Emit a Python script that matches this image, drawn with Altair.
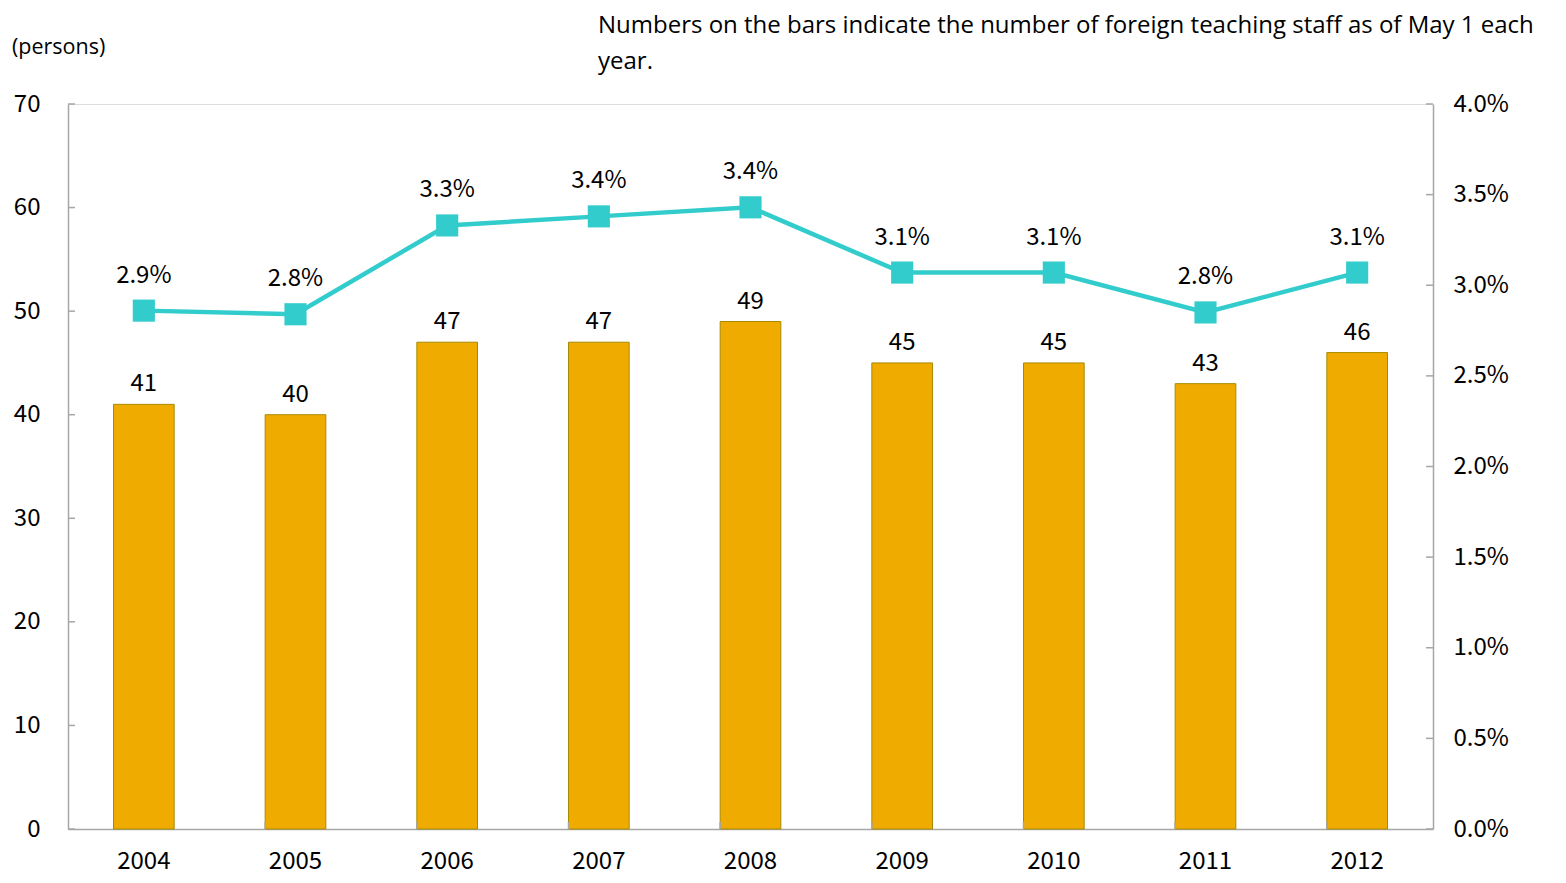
import altair as alt
import pandas as pd

years = ["2004", "2005", "2006", "2007", "2008", "2009", "2010", "2011", "2012"]
staff = [41, 40, 47, 47, 49, 45, 45, 43, 46]
ratio = [0.0286, 0.0284, 0.0333, 0.0338, 0.0343, 0.0307, 0.0307, 0.0285, 0.0307]
ratio_labels = ["2.9%", "2.8%", "3.3%", "3.4%", "3.4%", "3.1%", "3.1%", "2.8%", "3.1%"]
left_ticks = [0, 10, 20, 30, 40, 50, 60, 70]
right_ticks = [0, 0.005, 0.01, 0.015, 0.02, 0.025, 0.03, 0.035, 0.04]
note = "Numbers on the bars indicate the number of foreign teaching staff as of May 1 each\nyear."
unit = "(persons)"

W, H = 1365, 725
NUM_FONT = "Noto Sans CJK JP"
TXT_FONT = "Open Sans"
AXIS_GRAY = "#A6A6A6"
NUM_SIZE = 24

df = pd.DataFrame({"year": years, "staff": staff, "ratio": ratio, "rlabel": ratio_labels})
lt = pd.DataFrame({"v": left_ticks})
rt = pd.DataFrame({"v": right_ticks})
bt = pd.DataFrame({"year": years[1:]})

xscale = alt.Scale(domain=years, paddingInner=0.6, paddingOuter=0.3)
xenc = alt.X("year:N", scale=xscale, title=None,
             axis=alt.Axis(labelAngle=0, ticks=False, labelFont=NUM_FONT, labelFontSize=NUM_SIZE,
                           labelColor="#000000", labelPadding=20, domainColor=AXIS_GRAY,
                           domainWidth=1.5, grid=False))
xplain = alt.X("year:N", scale=xscale, title=None)

yl_scale = alt.Scale(domain=[0, 70], nice=False, zero=True)
yr_scale = alt.Scale(domain=[0, 0.04], nice=False, zero=True)

bars = alt.Chart(df).mark_bar(color="#F0AB00", stroke="#A88A00", strokeWidth=1).encode(
    x=xenc,
    y=alt.Y("staff:Q", scale=yl_scale, title=None,
            axis=alt.Axis(values=left_ticks, ticks=False, labelFont=NUM_FONT,
                          labelFontSize=NUM_SIZE, labelColor="#000000", labelPadding=28,
                          domainColor=AXIS_GRAY, domainWidth=1.5, grid=False)),
)
bar_text = alt.Chart(df).mark_text(baseline="bottom", dy=-8, font=NUM_FONT, fontSize=NUM_SIZE,
                                   color="#000000").encode(
    x=xplain, y=alt.Y("staff:Q", scale=yl_scale, title=None), text="staff:Q")
left_tick_marks = alt.Chart(lt).mark_rule(color=AXIS_GRAY, strokeWidth=1.5).encode(
    y=alt.Y("v:Q", scale=yl_scale, title=None), x=alt.value(0), x2=alt.value(7))
x_tick_marks = alt.Chart(bt).mark_rule(color=AXIS_GRAY, strokeWidth=1.5).encode(
    x=alt.X("year:N", scale=xscale, title=None, bandPosition=0),
    y=alt.value(H - 7), y2=alt.value(H))
note_text = alt.Chart(pd.DataFrame({"t": [note]})).mark_text(
    align="left", baseline="middle", font=TXT_FONT, fontSize=24, lineHeight=36,
    lineBreak="\n", color="#000000").encode(
    x=alt.value(530), y=alt.value(-78), text="t:N")
unit_text = alt.Chart(pd.DataFrame({"t": [unit]})).mark_text(
    align="left", baseline="middle", font=TXT_FONT, fontSize=21.5, color="#000000").encode(
    x=alt.value(-56), y=alt.value(-56), text="t:N")

left = alt.layer(bars, bar_text, left_tick_marks, x_tick_marks, note_text, unit_text)

line = alt.Chart(df).mark_line(color="#33CCCC", strokeWidth=4.5).encode(
    x=xplain,
    y=alt.Y("ratio:Q", scale=yr_scale, title=None,
            axis=alt.Axis(orient="right", values=right_ticks, format=".1%", ticks=False,
                          labelFont=NUM_FONT, labelFontSize=NUM_SIZE, labelColor="#000000",
                          labelPadding=20, domainColor=AXIS_GRAY, domainWidth=1.5,
                          grid=False)),
)
points = alt.Chart(df).mark_point(shape="square", filled=True, size=490, color="#33CCCC",
                                  opacity=1).encode(
    x=xplain, y=alt.Y("ratio:Q", scale=yr_scale, title=None))
line_text = alt.Chart(df).mark_text(baseline="bottom", dy=-23, font=NUM_FONT, fontSize=NUM_SIZE,
                                    color="#000000").encode(
    x=xplain, y=alt.Y("ratio:Q", scale=yr_scale, title=None), text="rlabel:N")
right_tick_marks = alt.Chart(rt).mark_rule(color=AXIS_GRAY, strokeWidth=1.5).encode(
    y=alt.Y("v:Q", scale=yr_scale, title=None), x=alt.value(W - 7), x2=alt.value(W))

right = alt.layer(line, points, line_text, right_tick_marks)

chart = alt.layer(left, right).resolve_scale(y="independent").properties(
    width=W, height=H,
    autosize=alt.AutoSizeParams(type="none"),
    padding={"left": 60, "top": 96, "right": 125, "bottom": 46},
).configure_view(stroke="transparent", strokeWidth=0).configure(background="white")

chart.save("out.html", embed_options={"renderer": "svg", "actions": False})
